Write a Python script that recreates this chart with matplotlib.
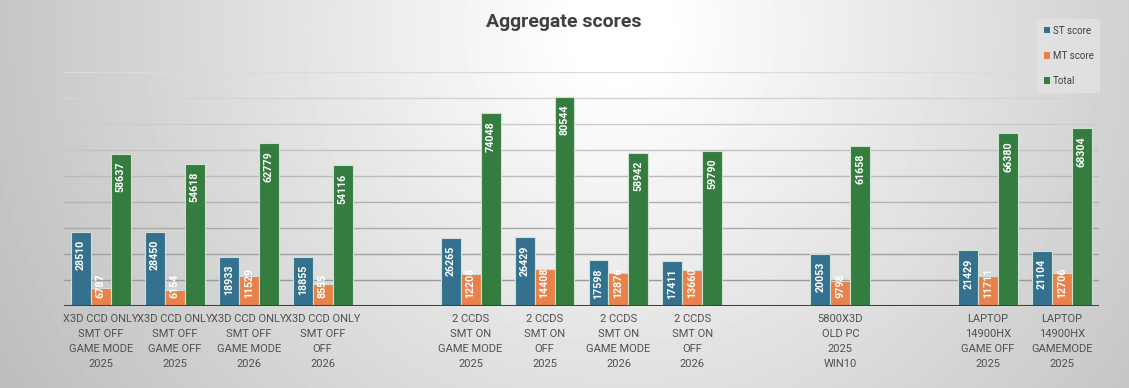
import numpy as np
import matplotlib
matplotlib.use('Agg')
import matplotlib.pyplot as plt
from matplotlib.patches import Patch

# chart data (None = empty slot between groups)
labels = ['X3D CCD ONLY\nSMT OFF\nGAME MODE\n2025', 'X3D CCD ONLY\nSMT OFF\nGAME OFF\n2025',
          'X3D CCD ONLY\nSMT OFF\nGAME MODE\n2026', 'X3D CCD ONLY\nSMT OFF\nOFF\n2026',
          None,
          '2 CCDS\nSMT ON\nGAME MODE\n2025', '2 CCDS\nSMT ON\nOFF\n2025',
          '2 CCDS\nSMT ON\nGAME MODE\n2026', '2 CCDS\nSMT ON\nOFF\n2026',
          None,
          '5800X3D\nOLD PC\n2025\nWIN10',
          None,
          'LAPTOP\n14900HX\nGAME OFF\n2025', 'LAPTOP\n14900HX\nGAMEMODE\n2025']
st_score = [28510, 28450, 18933, 18855, None, 26265, 26429, 17598, 17411, None, 20053, None, 21429, 21104]
mt_score = [6787, 6154, 11529, 8555, None, 12208, 14408, 12876, 13660, None, 9798, None, 11711, 12706]
total = [58637, 54618, 62779, 54116, None, 74048, 80544, 58942, 59790, None, 61658, None, 66380, 68304]

series = [('ST score', st_score, '#34718f'),
          ('MT score', mt_score, '#e8824a'),
          ('Total', total, '#347d3f')]

W, H = 1129, 388
fig = plt.figure(figsize=(W / 100, H / 100), dpi=100)

# radial grey background
bg = fig.add_axes([0, 0, 1, 1], zorder=-10)
xx, yy = np.meshgrid(np.arange(W), np.arange(H))
d = np.sqrt(((xx - 620) / 565.0) ** 2 + ((yy - 30) / 560.0) ** 2)
v = np.clip(1 - 0.22 * np.clip(d - 0.08, 0, None), 0, 1)
bg.imshow(v, cmap='gray', vmin=0, vmax=1, aspect='auto', interpolation='bilinear')
bg.axis('off')

ax = fig.add_axes([64 / W, 1 - 306 / H, 1035 / W, 234 / H])
ax.patch.set_alpha(0)
n = len(labels)
x = np.arange(n)
ax.set_xlim(-0.5, n - 0.5)
ax.set_ylim(0, 90000)

# gridlines, darker toward the bottom
for g in range(10000, 90001, 10000):
    t = g / 90000
    c = (0.57 + 0.29 * t,) * 3
    ax.axhline(g, color=c, lw=1, zorder=0)

bw = 0.27
ppu = 234 / 90000
for k, (name, vals, col) in enumerate(series):
    for i, val in enumerate(vals):
        if val is None:
            continue
        xi = i + (k - 1) * bw
        ax.bar(xi, val, width=bw, color=col, edgecolor='#d0e0d4', linewidth=0.8, zorder=2)
        txt = str(val)
        tlen = len(txt) * 5.85
        if val * ppu >= tlen + 16:
            ax.annotate(txt, (xi, val), xytext=(0, -8), textcoords='offset pixels',
                        rotation=90, ha='center', va='top', color='white',
                        fontsize=7.7, fontweight='bold', family='Roboto', zorder=3)
        else:
            ax.annotate(txt, (xi, 0), xytext=(0, 8), textcoords='offset pixels',
                        rotation=90, ha='center', va='bottom', color='white',
                        fontsize=7.7, fontweight='bold', family='Roboto', zorder=3)

ax.axhline(0, color='#404040', lw=2.2, zorder=4)
ax.set_xticks([i for i in x if labels[i] is not None])
ax.set_xticklabels([l for l in labels if l is not None], fontsize=8, family='Roboto',
                   color='#505050', linespacing=1.62)
ax.tick_params(axis='x', length=0, pad=6)
ax.set_yticks([])
for s in ax.spines.values():
    s.set_visible(False)

fig.text(564 / W, 1 - 22 / H, 'Aggregate scores', ha='center', va='center',
         fontsize=14, fontweight='bold', family='Roboto', color='#404040')

handles = [Patch(facecolor=c, label=nm) for nm, _, c in series]
leg = fig.legend(handles=handles, loc='upper left', bbox_to_anchor=(1037 / W, 1 - 19 / H),
                 prop={'family': 'Roboto', 'size': 7}, handlelength=0.6, handleheight=0.6,
                 handletextpad=0.3, labelspacing=1.55, frameon=True, fancybox=False,
                 borderpad=0.7, borderaxespad=0)
leg.get_frame().set_facecolor('#e4e4e4')
leg.get_frame().set_alpha(0.7)
leg.get_frame().set_edgecolor('none')
for t in leg.get_texts():
    t.set_color('#404040')

fig.savefig('out.png', dpi=100)
